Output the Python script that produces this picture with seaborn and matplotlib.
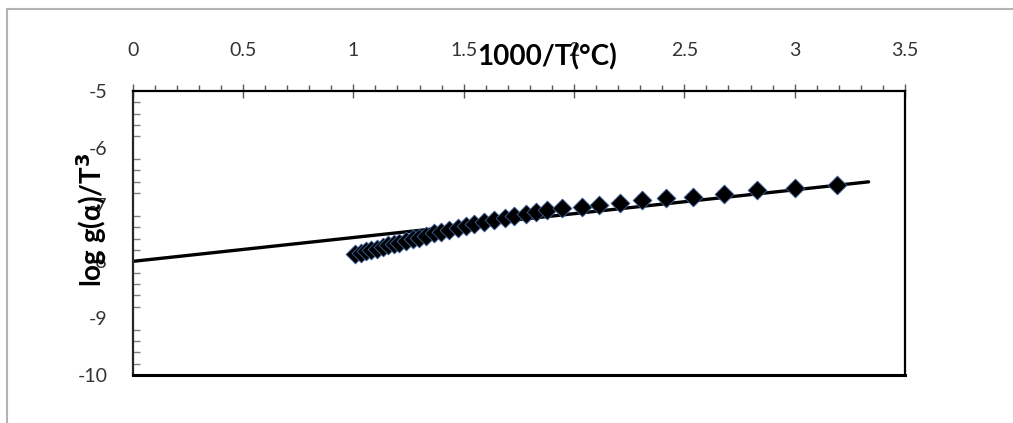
import numpy as np
import pandas as pd
import seaborn as sns
import matplotlib.pyplot as plt
from matplotlib.lines import Line2D
from matplotlib.ticker import MultipleLocator

# 1000/T values and log g(alpha)/T^3
inv_temp = [1.008, 1.035, 1.058, 1.080, 1.108, 1.133, 1.159, 1.183, 1.208,
            1.239, 1.269, 1.299, 1.330, 1.367, 1.397, 1.435, 1.473, 1.511,
            1.548, 1.594, 1.639, 1.685, 1.730, 1.783, 1.828, 1.877, 1.945,
            2.035, 2.112, 2.209, 2.307, 2.417, 2.540, 2.680, 2.830, 3.002,
            3.190]
log_g = [-7.875, -7.85, -7.825, -7.80, -7.775, -7.75, -7.72, -7.70, -7.67,
         -7.64, -7.61, -7.58, -7.545, -7.505, -7.475, -7.445, -7.405, -7.37,
         -7.335, -7.30, -7.27, -7.24, -7.21, -7.165, -7.125, -7.095, -7.065,
         -7.045, -7.01, -6.97, -6.925, -6.89, -6.86, -6.82, -6.75, -6.71,
         -6.66]

# linear trendline end points (as drawn by the spreadsheet)
trend_x = [0.0, 3.335]
trend_y = [-8.0, -6.60]

x_ticks = [0, 0.5, 1, 1.5, 2, 2.5, 3, 3.5]
x_ticklabels = ["0", "0.5", "1", "1.5", "2", "2.5", "3", "3.5"]
y_ticks = [-5, -6, -7, -8, -9, -10]
y_ticklabels = ["-5", "-6", "-7", "-8", "-9", "-10"]

sns.set_style("white")
plt.rcParams['font.family'] = ['Lato', 'DejaVu Sans']

df = pd.DataFrame({"inv_temp": inv_temp, "log_g": log_g})

fig = plt.figure(figsize=(10.13, 4.23), dpi=100)
ax = fig.add_axes([0.131, 0.1135, 0.7624, 0.6715])

sns.lineplot(x=trend_x, y=trend_y, color="black", linewidth=2.4, ax=ax)
sns.scatterplot(data=df, x="inv_temp", y="log_g", marker="D", s=92,
                color="black", edgecolor="#3e63a0", linewidth=0.6,
                ax=ax, zorder=3)

ax.set_xlim(0, 3.5)
ax.set_ylim(-10, -5)
ax.xaxis.tick_top()
ax.set_xticks(x_ticks)
ax.set_xticklabels(x_ticklabels)
ax.set_yticks(y_ticks)
ax.set_yticklabels(y_ticklabels)
ax.xaxis.set_minor_locator(MultipleLocator(0.1))
ax.yaxis.set_minor_locator(MultipleLocator(0.2))
ax.set_xlabel("")
ax.set_ylabel("")

ax.tick_params(axis="x", which="major", direction="inout", length=10, width=1,
               color="#595959", pad=18, labelsize=14, labelcolor="#333333",
               top=True, bottom=False, labeltop=True, labelbottom=False)
ax.tick_params(axis="x", which="minor", direction="out", length=4, width=1,
               color="#595959", top=True, bottom=False)
ax.tick_params(axis="y", which="major", direction="inout", length=10, width=1,
               color="#7f7f7f", pad=13, labelsize=14, labelcolor="#333333")
ax.tick_params(axis="y", which="minor", direction="in", length=5, width=1,
               color="#7f7f7f", left=True)

for side in ["top", "right"]:
    ax.spines[side].set_color("black")
    ax.spines[side].set_linewidth(1.6)
ax.spines["bottom"].set_color("black")
ax.spines["bottom"].set_linewidth(2.2)
ax.spines["left"].set_color("#262626")
ax.spines["left"].set_linewidth(1.6)

# axis titles placed like the original (overlapping tick labels)
fig.text(547 / 1013, 1 - 57 / 423, "1000/T(°C)", ha="center", va="center",
         fontsize=20, fontweight="bold", color="black")
fig.text(92 / 1013, 1 - 220 / 423, "log g(α)/T$^\\mathbf{3}$", ha="center",
         va="center", rotation=90, fontsize=20, fontweight="bold", color="black")

# chart area border (only top and left visible)
fig.add_artist(Line2D([7 / 1013, 1], [1 - 9 / 423, 1 - 9 / 423],
                      transform=fig.transFigure, color="#b3b3b3", linewidth=1.5))
fig.add_artist(Line2D([7 / 1013, 7 / 1013], [0, 1 - 9 / 423],
                      transform=fig.transFigure, color="#b3b3b3", linewidth=1.5))

fig.savefig("out.png", dpi=100)
